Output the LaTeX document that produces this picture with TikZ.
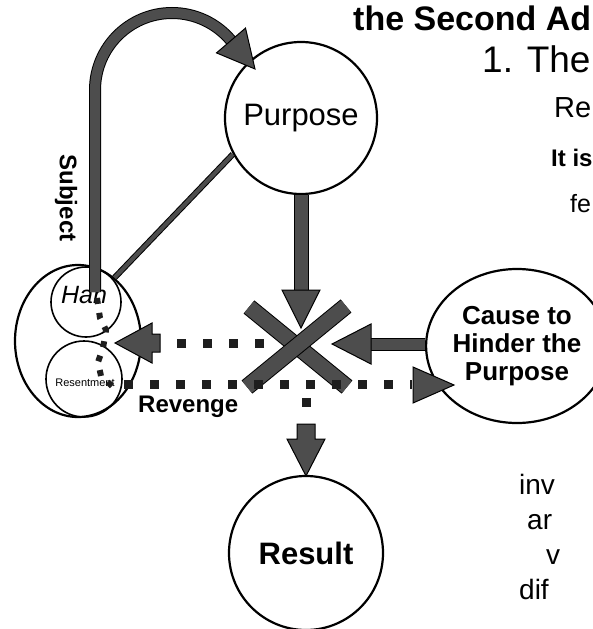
\documentclass[tikz,border=0pt]{standalone}
\usepackage{fontspec}
\setmainfont{Liberation Sans}
\usetikzlibrary{shapes.geometric}
\definecolor{agray}{HTML}{4D4D4D}
\definecolor{sq}{HTML}{1E1E1E}
\begin{document}
\begin{tikzpicture}[x=1pt,y=-1pt,
  circ/.style={circle,draw,line width=2.2pt,inner sep=0pt},
  ell/.style={ellipse,draw,line width=2.2pt,inner sep=0pt},
  shaft/.style={draw=black,line width=1pt,double=agray},
  headst/.style={fill=agray,draw=black,line width=1pt,line join=miter},
  dots/.style={draw=sq,line width=9pt,dash pattern=on 9pt off 17pt},
  smalldots/.style={draw=sq,line width=6pt,dash pattern=on 6pt off 9pt},
  body/.style={anchor=base west,inner sep=0pt,font=\fontsize{28}{32}\selectfont}
]
\useasboundingbox (0,0) rectangle (593,629);
\clip (0,0) rectangle (593,629);

% nodes
\node[circ,minimum size=152pt,font=\fontsize{31}{36}\selectfont] (purpose) at (301,118) {Purpose};
\node[ell,minimum width=126pt,minimum height=152pt] (subj) at (78,341) {};
\node[circ,minimum size=70pt,line width=1.6pt] (han) at (86,302) {};
\node[circ,minimum size=76pt,line width=1.6pt] (res) at (84,379) {};
\node[font=\itshape\fontsize{25}{30}\selectfont] (hant) at (84,295) {Han};
\node[font=\fontsize{11}{13}\selectfont] (rest) at (85,383) {Resentment};
\node[ell,minimum width=146pt,minimum height=154pt,align=center,font=\bfseries\fontsize{26}{28}\selectfont] (cause) at (517,346) {Cause to\\Hinder the\\Purpose};
\node[circ,minimum size=154pt,font=\bfseries\fontsize{31}{36}\selectfont] (result) at (306,553) {Result};
\node[rotate=-90,font=\bfseries\fontsize{24}{28}\selectfont] (subjl) at (66,198) {Subject};
\node[anchor=west,inner sep=0pt,font=\bfseries\fontsize{24}{28}\selectfont] (rev) at (138,407) {Revenge};

% right-hand text
\node[anchor=base west,inner sep=0pt,font=\bfseries\fontsize{34}{40}\selectfont] (t1) at (353,30) {the Second Ad};
\node[anchor=base west,inner sep=0pt,font=\fontsize{37}{44}\selectfont] (t2) at (482,72) {1. The};
\node[anchor=base west,inner sep=0pt,font=\fontsize{29}{34}\selectfont] (t3) at (554,117) {Re};
\node[anchor=base west,inner sep=0pt,font=\bfseries\fontsize{24}{28}\selectfont] (t4) at (551,166) {It is};
\node[anchor=base west,inner sep=0pt,font=\fontsize{25}{30}\selectfont] (t5) at (570,212) {fe};
\node[body] (t6) at (519,494) {inv};
\node[body] (t7) at (527,529) {ar};
\node[body] (t8) at (546,564) {v};
\node[body] (t9) at (519,599) {dif};

% Purpose -- Subject
\draw[line width=1pt,double=agray,double distance=4pt] (purpose.208) -- (subj.60);

% curved arrow from Han up to Purpose
\coordinate (a0) at (95,292);
\coordinate (a1) at (95,90);
\draw[shaft,double distance=10pt] (a0) -- (a1) arc (180:40:77pt) coordinate (aend);
\filldraw[headst] (245.5,28.1) -- (255,69) -- (216.5,52.9) -- cycle;

% Purpose -> X
\coordinate (pdown) at (301,291);
\draw[shaft,double distance=13pt] (purpose.south) -- (pdown);
\filldraw[headst] (282,290) -- (320,290) -- (301,328) -- cycle;

% the X
\coordinate (X) at (297,345);
\draw[line width=1pt,double=agray,double distance=15pt] (249,307) -- (347,387);
\draw[line width=1pt,double=agray,double distance=15pt] (346,306) -- (247,387);

% Cause -> X
\coordinate (cin) at (371,344);
\draw[shaft,double distance=11pt] (cause.west |- cin) -- (cin);
\filldraw[headst] (371,324) -- (371,364) -- (332,344) -- cycle;

% dotted arrow from X back to Han/Resentment
\draw[dots] (264,343) -- (158,343);
\filldraw[headst] (160,334) -- (152,334) -- (152,323) -- (115,343) -- (152,363) -- (152,352) -- (160,352) -- cycle;

% Revenge: dotted path from Han through Resentment to the Cause
\draw[smalldots] (97,298) -- (100,318) -- (106,330) -- (103,348) -- (98,362) -- (101,376) -- (112,386);
\draw[dots] (124,384) -- (412,384);
\filldraw[headst] (413,367) -- (454,385) -- (413,403) -- cycle;

% X -> Result
\draw[dots] (306,398) -- (306,407);
\filldraw[headst] (297,424) -- (315,424) -- (315,439) -- (325,439) -- (306,476) -- (287,439) -- (297,439) -- cycle;
\end{tikzpicture}
\end{document}
